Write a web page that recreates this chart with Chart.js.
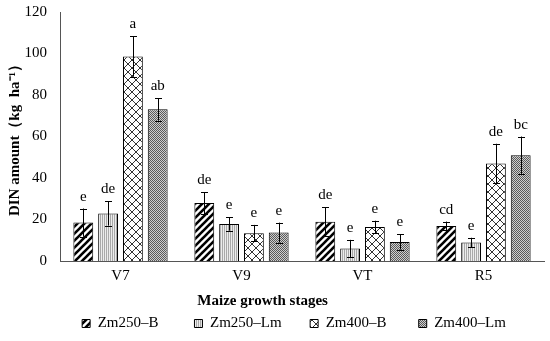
<!DOCTYPE html>
<html>
<head>
    <script src="https://cdn.jsdelivr.net/npm/chart.js"></script>
    <style>
        body { margin: 0; background: #fff; }
        #wrap { width: 550px; height: 341px; }
    </style>
</head>
<body>
<div id="wrap"><canvas id="dinChart" width="550" height="341"></canvas></div>
<script>
    // data
    const stages = ["V7", "V9", "VT", "R5"];
    const seriesNames = ["Zm250\u2013B", "Zm250\u2013Lm", "Zm400\u2013B", "Zm400\u2013Lm"];
    const zm250B  = [18.5, 27.9, 18.9, 16.9];
    const zm250Lm = [22.9, 17.8, 6.0, 8.9];
    const zm400B  = [98.6, 13.4, 16.4, 47.0];
    const zm400Lm = [73.1, 13.7, 9.2, 51.0];
    const err250B  = [6.8, 5.3, 6.9, 2.1];
    const err250Lm = [5.8, 3.2, 4.2, 2.3];
    const err400B  = [9.8, 4.0, 3.0, 9.5];
    const err400Lm = [5.4, 4.8, 3.7, 9.0];
    const let250B  = ["e", "de", "de", "cd"];
    const let250Lm = ["de", "e", "e", "e"];
    const let400B  = ["a", "e", "e", "de"];
    const let400Lm = ["ab", "e", "e", "bc"];
    const yTicks = [0, 20, 40, 60, 80, 100, 120];

    const FONT = "'Liberation Serif', 'Times New Roman', serif";

    function makePattern(size, paint) {
        const c = document.createElement('canvas');
        c.width = size; c.height = size;
        const g = c.getContext('2d');
        paint(g, size);
        return g.createPattern(c, 'repeat');
    }

    // thick black "/" stripes
    const stripes = makePattern(7, (g, s) => {
        g.fillStyle = '#fff'; g.fillRect(0, 0, s, s);
        g.strokeStyle = '#000'; g.lineWidth = 2.6;
        [[0, s, s, 0], [-1, 1, 1, -1], [s - 1, s + 1, s + 1, s - 1]].forEach(l => {
            g.beginPath(); g.moveTo(l[0], l[1]); g.lineTo(l[2], l[3]); g.stroke();
        });
    });
    // light grey fine vertical lines
    const fineLines = makePattern(2, (g, s) => {
        g.fillStyle = '#ececec'; g.fillRect(0, 0, s, s);
        g.fillStyle = '#a9a9a9'; g.fillRect(0, 0, 1, s);
    });
    // black diamond cross hatch on white
    const hatch = makePattern(8, (g, s) => {
        g.fillStyle = '#fff'; g.fillRect(0, 0, s, s);
        g.strokeStyle = '#333'; g.lineWidth = 1;
        g.beginPath(); g.moveTo(0, 0); g.lineTo(s, s); g.stroke();
        g.beginPath(); g.moveTo(s, 0); g.lineTo(0, s); g.stroke();
    });
    // dense dark dots
    const dots = makePattern(2, (g, s) => {
        g.fillStyle = '#cfcfcf'; g.fillRect(0, 0, s, s);
        g.fillStyle = '#5a5a5a'; g.fillRect(0, 0, 1, 1); g.fillRect(1, 1, 1, 1);
    });

    function bar(label, data, fill, errs, letters) {
        return {
            label: label,
            data: data,
            errs: errs,
            letters: letters,
            backgroundColor: fill,
            borderColor: '#000',
            borderWidth: 1,
            categoryPercentage: 0.82,
            barPercentage: 0.8
        };
    }

    // error bars and significance letters, placed with the chart's own scales
    const errorBars = {
        id: 'errorBars',
        afterDatasetsDraw(chart) {
            const ctx = chart.ctx;
            const y = chart.scales.y;
            ctx.save();
            ctx.strokeStyle = '#000';
            ctx.lineWidth = 1;
            ctx.fillStyle = '#000';
            ctx.font = '15px ' + FONT;
            ctx.textAlign = 'center';
            ctx.textBaseline = 'alphabetic';
            chart.data.datasets.forEach((ds, i) => {
                chart.getDatasetMeta(i).data.forEach((el, j) => {
                    const v = ds.data[j], e = ds.errs[j];
                    const top = y.getPixelForValue(v + e);
                    const bot = y.getPixelForValue(Math.max(v - e, 0));
                    const x = Math.round(el.x) + 0.5;
                    ctx.beginPath();
                    ctx.moveTo(x, top); ctx.lineTo(x, bot);
                    ctx.moveTo(x - 3.5, Math.round(top) + 0.5); ctx.lineTo(x + 3.5, Math.round(top) + 0.5);
                    ctx.moveTo(x - 3.5, Math.round(bot) + 0.5); ctx.lineTo(x + 3.5, Math.round(bot) + 0.5);
                    ctx.stroke();
                    ctx.fillText(ds.letters[j], el.x, top - 8);
                });
            });
            ctx.restore();
        }
    };

    // the legend row in the original sits a little right of centre
    const legendShift = {
        id: 'legendShift',
        afterLayout(chart) {
            chart.legend.left += 22;
            chart.legend.right += 22;
        }
    };

    const baseLabels = Chart.defaults.plugins.legend.labels.generateLabels;
    const legendGaps = [8, 6, 7, 0];

    const ctx = document.getElementById('dinChart').getContext('2d');
    new Chart(ctx, {
        type: 'bar',
        data: {
            labels: stages,
            datasets: [
                bar(seriesNames[0], zm250B, stripes, err250B, let250B),
                bar(seriesNames[1], zm250Lm, fineLines, err250Lm, let250Lm),
                bar(seriesNames[2], zm400B, hatch, err400B, let400B),
                bar(seriesNames[3], zm400Lm, dots, err400Lm, let400Lm)
            ]
        },
        options: {
            responsive: false,
            animation: false,
            layout: { padding: { top: 12, right: 6, left: 0, bottom: 0 } },
            plugins: {
                tooltip: { enabled: false },
                legend: {
                    position: 'bottom',
                    labels: {
                        color: '#000',
                        font: { family: FONT, size: 15 },
                        boxWidth: 8,
                        boxHeight: 8,
                        padding: 6,
                        generateLabels(chart) {
                            return baseLabels(chart).map((l, i) => {
                                l.text = l.text + '\u00a0'.repeat(legendGaps[i]);
                                return l;
                            });
                        }
                    }
                }
            },
            scales: {
                x: {
                    grid: { display: false, drawTicks: false },
                    border: { display: true, color: '#555', width: 1 },
                    ticks: { color: '#000', font: { family: FONT, size: 15 }, padding: 6 },
                    title: {
                        display: true,
                        text: 'Maize growth stages' + '\u00a0'.repeat(21),
                        color: '#000',
                        font: { family: FONT, size: 15, weight: 'bold' },
                        padding: { top: 1, bottom: 0 }
                    }
                },
                y: {
                    min: 0,
                    max: 120,
                    afterBuildTicks(scale) { scale.ticks = yTicks.map(v => ({ value: v })); },
                    afterFit(scale) { scale.width = 60; scale.paddingTop = 0; },
                    grid: { display: false, drawTicks: false },
                    border: { display: true, color: '#555', width: 1 },
                    ticks: { color: '#000', font: { family: FONT, size: 15 }, padding: 13 },
                    title: {
                        display: true,
                        text: 'DIN amount\uff08kg  ha\u207b\u00b9\uff09',
                        color: '#000',
                        font: { family: FONT, size: 15, weight: 'bold' },
                        padding: { top: 6, bottom: 2 }
                    }
                }
            }
        },
        plugins: [errorBars, legendShift]
    });
</script>
</body>
</html>
